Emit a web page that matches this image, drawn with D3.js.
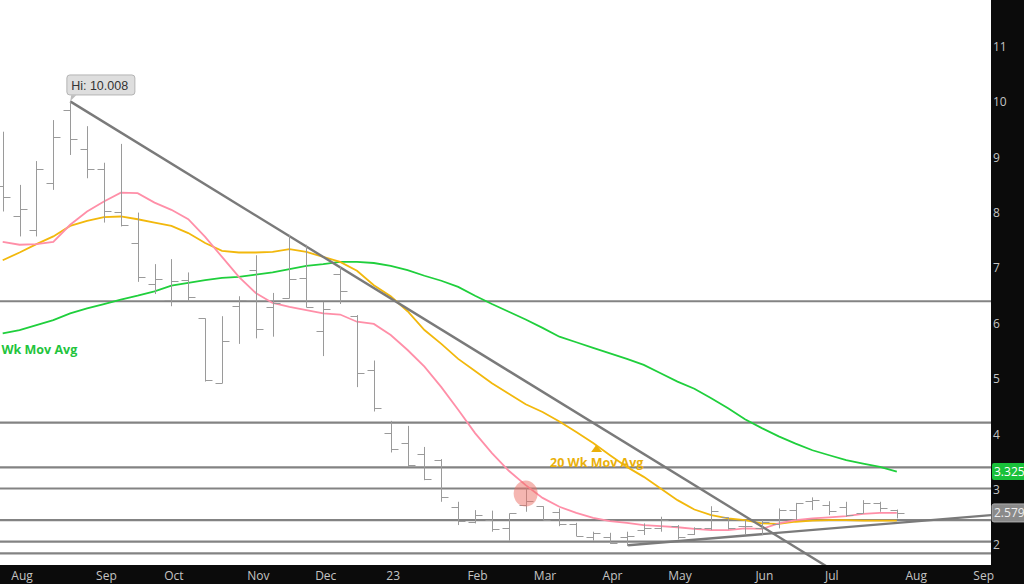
<!DOCTYPE html>
<html><head><meta charset="utf-8">
<script src="https://cdn.jsdelivr.net/npm/d3@7"></script>
<style>html,body{margin:0;padding:0;background:#0b0b0b;}svg{display:block}</style>
</head><body>
<svg id="c" width="1024" height="584"></svg>
<script>
// ---- data (weekly bars, natural gas continuous) ----
const weeks = ["2022-07-25","2022-08-01","2022-08-08","2022-08-15","2022-08-22","2022-08-29","2022-09-05","2022-09-12","2022-09-19","2022-09-26",
"2022-10-03","2022-10-10","2022-10-17","2022-10-24","2022-10-31","2022-11-07","2022-11-14","2022-11-21","2022-11-28","2022-12-05",
"2022-12-12","2022-12-19","2022-12-26","2023-01-02","2023-01-09","2023-01-16","2023-01-23","2023-01-30","2023-02-06","2023-02-13",
"2023-02-20","2023-02-27","2023-03-06","2023-03-13","2023-03-20","2023-03-27","2023-04-03","2023-04-10","2023-04-17","2023-04-24",
"2023-05-01","2023-05-08","2023-05-15","2023-05-22","2023-05-29","2023-06-05","2023-06-12","2023-06-19","2023-06-26","2023-07-03",
"2023-07-10","2023-07-17","2023-07-24","2023-07-31"];
const opens  = [8.48,7.94,7.69,8.53,9.86,9.14,8.78,8.01,7.46,6.72,6.43,6.78,6.09,4.93,6.31,6.96,6.29,6.45,6.82,5.86,6.90,6.13,5.16,4.03,3.85,3.64,3.53,2.69,2.42,2.46,2.30,2.72,2.70,2.60,2.38,2.14,2.14,2.14,2.27,2.31,2.34,2.20,2.31,2.50,2.34,2.31,2.38,2.64,2.80,2.72,2.69,2.58,2.76,2.64];
const highs  = [9.46,8.50,8.93,9.67,10.008,9.56,8.90,9.24,8.00,7.07,7.16,6.92,6.09,6.13,6.49,7.23,6.55,7.60,7.42,6.39,7.03,6.15,5.33,4.24,4.15,3.77,3.55,2.78,2.63,2.62,2.57,3.02,2.70,2.66,2.40,2.24,2.22,2.24,2.39,2.51,2.36,2.32,2.70,2.50,2.45,2.45,2.66,2.76,2.86,2.79,2.78,2.81,2.78,2.64];
const lows   = [8.02,7.57,7.57,8.41,9.04,8.62,7.82,7.75,6.75,6.53,6.31,6.40,4.95,4.92,5.63,5.73,5.76,6.45,6.29,5.41,6.35,4.85,4.41,3.67,3.41,3.17,2.78,2.36,2.39,2.24,2.08,2.60,2.45,2.34,2.16,2.08,2.02,1.98,2.18,2.24,2.10,2.18,2.27,2.28,2.18,2.18,2.30,2.45,2.63,2.54,2.51,2.57,2.60,2.48];
const closes = [8.28,8.06,8.78,9.36,9.32,8.78,8.02,7.78,6.83,6.80,6.77,6.47,4.97,5.69,6.42,5.89,6.37,6.81,6.29,6.26,6.58,5.11,4.47,3.73,3.44,3.20,2.86,2.44,2.54,2.28,2.57,2.80,2.46,2.38,2.16,2.22,2.04,2.16,2.30,2.46,2.15,2.30,2.62,2.30,2.34,2.42,2.64,2.76,2.81,2.62,2.54,2.76,2.66,2.579];
const ma10 = [7.47,7.42,7.43,7.47,7.78,8.02,8.20,8.36,8.35,8.18,8.05,7.88,7.56,7.20,6.84,6.55,6.37,6.30,6.24,6.18,6.16,6.03,5.99,5.79,5.52,5.22,4.85,4.44,4.02,3.66,3.34,3.08,2.85,2.69,2.58,2.49,2.43,2.40,2.36,2.34,2.32,2.29,2.27,2.27,2.30,2.29,2.39,2.45,2.48,2.50,2.52,2.56,2.58,2.58];
const ma20 = [7.14,7.28,7.43,7.57,7.76,7.85,7.92,7.93,7.88,7.82,7.76,7.63,7.45,7.31,7.28,7.28,7.29,7.34,7.29,7.20,7.11,6.95,6.69,6.49,6.22,5.88,5.63,5.36,5.14,4.92,4.73,4.54,4.40,4.23,4.04,3.84,3.62,3.41,3.23,3.02,2.81,2.64,2.54,2.48,2.45,2.39,2.38,2.42,2.44,2.45,2.45,2.44,2.44,2.44];
const ma50 = [5.82,5.88,5.97,6.06,6.18,6.27,6.35,6.43,6.50,6.58,6.68,6.73,6.78,6.82,6.84,6.88,6.92,6.98,7.04,7.07,7.11,7.11,7.09,7.04,6.96,6.86,6.77,6.66,6.50,6.35,6.21,6.07,5.92,5.76,5.66,5.56,5.46,5.36,5.25,5.10,4.95,4.82,4.65,4.47,4.27,4.11,3.96,3.83,3.71,3.62,3.53,3.47,3.41,3.325];
const levels = [6.40, 4.21, 3.40, 3.02, 2.45, 2.06, 1.85];
const downTrend = [[4, 10.008], [49, 1.584]];
const upTrend = [[37.07, 1.995], [58.6, 2.54]];
const monthIdx = [1, 6, 10, 15, 19, 23, 28, 32, 36, 40, 45, 49, 54, 58];
const monthLabels = ["Aug","Sep","Oct","Nov","Dec","23","Feb","Mar","Apr","May","Jun","Jul","Aug","Sep"];
const priceTicks = [2,3,4,5,6,7,8,9,10,11];
const hiLabel = "Hi: 10.008";
const lastPrice = 2.579, lastMa50 = 3.325;

// ---- layout ----
const W = 1024, H = 584, plotR = 991, plotB = 565;
const svg = d3.select("#c");
const x = d3.scaleLinear().domain([0, 53]).range([2.7, 2.7 + 16.87 * 53]);
const y = d3.scaleLinear().domain([2, 11]).range([545, 46.4]);

svg.append("rect").attr("width", W).attr("height", H).attr("fill", "#0b0b0b");
svg.append("rect").attr("width", plotR).attr("height", plotB).attr("fill", "#ffffff");
svg.append("defs").append("clipPath").attr("id", "clip")
  .append("rect").attr("width", plotR).attr("height", plotB);
const g = svg.append("g").attr("clip-path", "url(#clip)");

// horizontal support/resistance levels
g.selectAll("line.lvl").data(levels).join("line").attr("class", "lvl")
  .attr("x1", 0).attr("x2", plotR).attr("y1", d => y(d)).attr("y2", d => y(d))
  .attr("stroke", "#838383").attr("stroke-width", 2.2);

// moving averages
const line = d3.line().x((d, i) => x(i)).y(d => y(d));
g.append("path").datum(ma50).attr("d", line).attr("fill", "none").attr("stroke", "#1fcf3c").attr("stroke-width", 1.8);
g.append("path").datum(ma20).attr("d", line).attr("fill", "none").attr("stroke", "#f2b80c").attr("stroke-width", 1.8);
g.append("path").datum(ma10).attr("d", line).attr("fill", "none").attr("stroke", "#ff8fa8").attr("stroke-width", 1.8);

// trend lines
const tl = d3.line().x(d => x(d[0])).y(d => y(d[1]));
g.append("path").datum(downTrend).attr("d", tl).attr("stroke", "#7a7a7a").attr("stroke-width", 2.4).attr("fill", "none");
g.append("path").datum(upTrend).attr("d", tl).attr("stroke", "#7a7a7a").attr("stroke-width", 2.4).attr("fill", "none");

// OHLC bars
const bars = g.append("g").attr("stroke", "#9a9a9a").attr("stroke-width", 1);
weeks.forEach((w, i) => {
  const cx = Math.round(x(i)) + 0.5;
  bars.append("line").attr("x1", cx).attr("x2", cx).attr("y1", y(highs[i])).attr("y2", y(lows[i]));
  bars.append("line").attr("x1", cx - 7).attr("x2", cx).attr("y1", Math.round(y(opens[i])) + 0.5).attr("y2", Math.round(y(opens[i])) + 0.5);
  bars.append("line").attr("x1", cx).attr("x2", cx + 7).attr("y1", Math.round(y(closes[i])) + 0.5).attr("y2", Math.round(y(closes[i])) + 0.5);
});

// highlight circle
g.append("ellipse").attr("cx", x(31)).attr("cy", y(3.0) + 4).attr("rx", 12).attr("ry", 13)
  .attr("fill", "rgba(236,110,100,0.5)");

// MA labels
g.append("text").attr("x", 1.5).attr("y", y(ma50[0]) + 21).text("Wk Mov Avg")
  .attr("fill", "#22c43c").attr("font-family", "Open Sans, sans-serif").attr("font-weight", "bold").attr("font-size", 12.5);
g.append("text").attr("x", 550).attr("y", 467).text("20 Wk Mov Avg")
  .attr("fill", "#eab00a").attr("font-family", "Open Sans, sans-serif").attr("font-weight", "bold").attr("font-size", 12.5);
g.append("path").attr("d", `M${x(35)-2},${y(ma20[35])+9} L${x(35)+9},${y(ma20[35])+9} L${x(35)+3},${y(ma20[35])+2} Z`).attr("fill", "#eab00a");

// Hi label
const hx = x(4), hy = y(10.008);
const hg = svg.append("g");
hg.append("path").attr("d", `M${hx},${hy} L${hx+1},${hy-6} L${hx+6},${hy-6} Z`).attr("fill", "#bdbdbd");
hg.append("rect").attr("x", hx - 3.3).attr("y", hy - 26.4).attr("width", 68).attr("height", 20).attr("rx", 3)
  .attr("fill", "#dedede").attr("stroke", "#b4b4b4");
hg.append("text").attr("x", hx + 1).attr("y", hy - 11.5).text(hiLabel).attr("fill", "#333")
  .attr("font-family", "Liberation Sans, Arial, sans-serif").attr("font-size", 12.5);

// right axis
const ax = svg.append("g").attr("transform", `translate(${plotR},0)`)
  .call(d3.axisRight(y).tickValues(priceTicks).tickSize(0).tickPadding(2).tickFormat(d3.format("d")));
ax.select(".domain").remove();
ax.selectAll("text").attr("fill", "#c4c4c4").attr("font-family", "Open Sans, sans-serif").attr("font-size", 12);

// value boxes
const vb = svg.append("g").attr("font-family", "Open Sans, sans-serif").attr("font-size", 12);
vb.append("rect").attr("x", plotR + 1).attr("y", y(lastMa50) - 8.5).attr("width", 40).attr("height", 17).attr("rx", 2).attr("fill", "#19c13a");
vb.append("text").attr("x", plotR + 3).attr("y", y(lastMa50) + 4.3).text(lastMa50.toFixed(3)).attr("fill", "#ffffff");
vb.append("rect").attr("x", plotR + 1).attr("y", y(lastPrice) - 9).attr("width", 40).attr("height", 18).attr("rx", 2)
  .attr("fill", "#8a8a8a").attr("stroke", "#b0b0b0");
vb.append("text").attr("x", plotR + 3).attr("y", y(lastPrice) + 4.3).text(lastPrice.toFixed(3)).attr("fill", "#eeeeee");

// bottom axis
const bx = svg.append("g").attr("transform", `translate(2,${plotB})`)
  .call(d3.axisBottom(x).tickValues(monthIdx).tickSize(0).tickPadding(6).tickFormat((d, i) => monthLabels[i]));
bx.select(".domain").remove();
bx.selectAll("text").attr("fill", "#c4c4c4").attr("font-family", "Open Sans, sans-serif").attr("font-size", 12);
</script>
</body></html>
